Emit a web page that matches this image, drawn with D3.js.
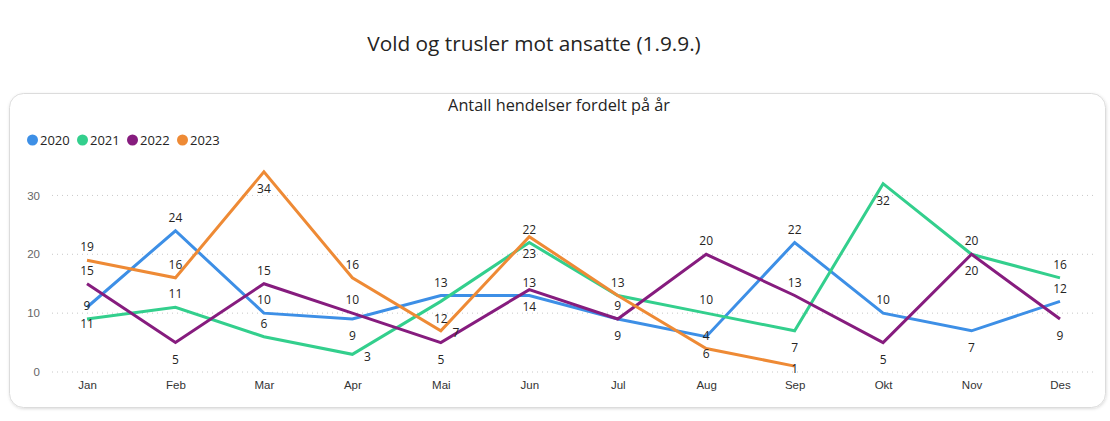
<!DOCTYPE html>
<html>
<head>
<meta charset="utf-8">
<script src="https://cdn.jsdelivr.net/npm/d3@7"></script>
<style>
  body { margin: 0; background: #fff; }
  svg { display: block; font-family: "Segoe UI", "Open Sans", "Noto Sans", sans-serif; }
</style>
</head>
<body>
<svg id="chart" width="1110" height="421"></svg>
<script>
// data
var months = ['Jan', 'Feb', 'Mar', 'Apr', 'Mai', 'Jun', 'Jul', 'Aug', 'Sep', 'Okt', 'Nov', 'Des']
var years = ['2020', '2021', '2022', '2023']
var v2020 = [11, 24, 10, 9, 13, 13, 9, 6, 22, 10, 7, 12]
var v2021 = [9, 11, 6, 3, 12, 22, 13, 10, 7, 32, 20, 16]
var v2022 = [15, 5, 15, 10, 5, 14, 9, 20, 13, 5, 20, 9]
var v2023 = [19, 16, 34, 16, 7, 23, 13, 4, 1, null, null, null]
var yTicks = [0, 10, 20, 30]

var colors = { '2020': '#3d8fe6', '2021': '#33cf8d', '2022': '#861c7e', '2023': '#ee8a35' }

// where each data label sits (default is above the point)
var labelPlace = {
  '2020': { Jan: 'below', Apr: 'below', Jul: 'below', Aug: 'below', Nov: 'below' },
  '2021': { Apr: 'right', Mai: 'below', Sep: 'below', Okt: 'below' },
  '2022': { Feb: 'below', Mai: 'below', Jun: 'below', Okt: 'below', Nov: 'below', Des: 'below' },
  '2023': { Mar: 'below', Mai: 'right', Jun: 'below', Jul: 'none', Sep: 'on' }
}

var seriesData = { '2020': v2020, '2021': v2021, '2022': v2022, '2023': v2023 }

var svg = d3.select('#chart')

var defs = svg.append('defs')
var f = defs.append('filter').attr('id', 'shadow').attr('x', '-5%').attr('y', '-5%').attr('width', '110%').attr('height', '115%')
f.append('feDropShadow').attr('dx', 0.5).attr('dy', 1).attr('stdDeviation', 1.5).attr('flood-color', '#000').attr('flood-opacity', 0.14)

// page title
svg.append('text')
   .attr('x', 534)
   .attr('y', 51)
   .attr('text-anchor', 'middle')
   .attr('font-size', 20.8)
   .attr('fill', '#252423')
   .text('Vold og trusler mot ansatte (1.9.9.)')

// card
svg.append('rect')
   .attr('x', 9.5)
   .attr('y', 93.5)
   .attr('width', 1096)
   .attr('height', 314)
   .attr('rx', 14)
   .attr('fill', '#fff')
   .attr('stroke', '#dcdcdc')
   .attr('filter', 'url(#shadow)')

svg.append('text')
   .attr('x', 559)
   .attr('y', 111)
   .attr('text-anchor', 'middle')
   .attr('font-size', 16.3)
   .attr('fill', '#252423')
   .text('Antall hendelser fordelt på år')

// legend
var legend = svg.append('g')
years.forEach((yr, i) => {
  legend.append('circle')
        .attr('cx', 32.5 + i * 50)
        .attr('cy', 140)
        .attr('r', 5.5)
        .attr('fill', colors[yr])
  legend.append('text')
        .attr('x', 40 + i * 50)
        .attr('y', 144.5)
        .attr('font-size', 13)
        .attr('fill', '#252423')
        .text(yr)
})

var x = d3.scalePoint().domain(months).range([87, 1060])
var y = d3.scaleLinear().domain([0, 35]).range([372, 166])

// gridlines + y labels
var grid = svg.append('g')
yTicks.forEach(t => {
  grid.append('line')
      .attr('x1', 52).attr('x2', 1096)
      .attr('y1', y(t)).attr('y2', y(t))
      .attr('stroke', '#c8c8c8')
      .attr('stroke-width', 1)
      .attr('stroke-dasharray', '1,4')
})

var yAxis = svg.append('g')
               .attr('transform', 'translate(40,0)')
               .call(d3.axisLeft(y).tickValues(yTicks).tickSize(0).tickPadding(0))
yAxis.select('.domain').remove()
yAxis.selectAll('text').attr('font-size', 11.5).attr('fill', '#666').attr('font-family', null)

var xAxis = svg.append('g')
               .attr('transform', 'translate(0,378)')
               .call(d3.axisBottom(x).tickSize(0).tickPadding(3))
xAxis.select('.domain').remove()
xAxis.selectAll('text').attr('font-size', 11.5).attr('fill', '#333').attr('font-family', null)

var line = d3.line()
             .defined(d => d.v != null)
             .x(d => x(d.m))
             .y(d => y(d.v))

years.forEach(yr => {
  var pts = months.map((m, i) => ({ m: m, v: seriesData[yr][i] }))
  svg.append('path')
     .datum(pts)
     .attr('d', line)
     .attr('fill', 'none')
     .attr('stroke', colors[yr])
     .attr('stroke-width', 3)
     .attr('stroke-linejoin', 'miter')
})

// data labels
var labels = svg.append('g')
years.forEach(yr => {
  months.forEach((m, i) => {
    var v = seriesData[yr][i]
    if (v == null) return
    var place = labelPlace[yr][m] || 'above'
    if (place === 'none') return
    var dx = 0
    var dy = -13
    if (place === 'below') dy = 17
    if (place === 'right') { dx = 15; dy = 2 }
    if (place === 'on') dy = 3
    labels.append('text')
          .attr('x', x(m) + dx)
          .attr('y', y(v) + dy)
          .attr('dy', '0.35em')
          .attr('text-anchor', 'middle')
          .attr('font-size', 12)
          .attr('fill', '#252423')
          .text(v)
  })
})
</script>
</body>
</html>
